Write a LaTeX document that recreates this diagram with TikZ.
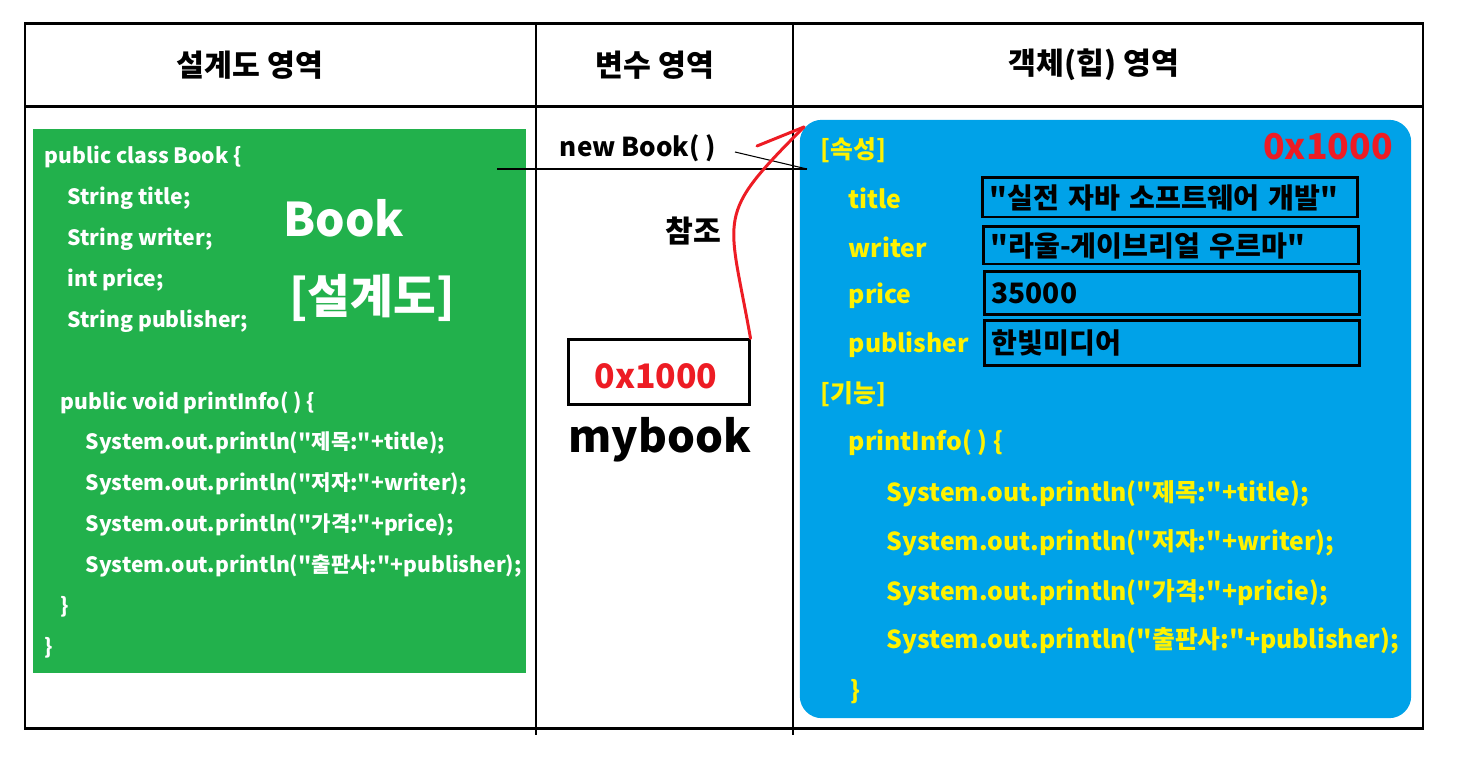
\documentclass[tikz,border=0pt]{standalone}
\usepackage{fontspec}
\setmainfont{Noto Sans CJK KR}[Ligatures=TeXOff]
\usetikzlibrary{arrows.meta,positioning}
\definecolor{planGreen}{HTML}{22B14C}
\definecolor{heapBlue}{HTML}{00A2E8}
\definecolor{codeYellow}{HTML}{FFF200}
\definecolor{addrRed}{HTML}{ED1C24}

\begin{document}
\begin{tikzpicture}[x=0.01cm, y=-0.01cm,
  frame/.style={line width=0.85pt},
  head/.style={font=\bfseries\fontsize{8.6}{10}\selectfont},
  code/.style={anchor=west, inner sep=0pt, text=white, font=\bfseries\fontsize{6.0}{7}\selectfont},
  big/.style={inner sep=0pt, text=white, font=\bfseries\fontsize{13.2}{15}\selectfont},
  heap/.style={anchor=west, inner sep=0pt, text=codeYellow, font=\bfseries\fontsize{7.05}{8}\selectfont},
  valbox/.style={draw, line width=0.85pt, anchor=west, inner ysep=0pt, text width=3.61cm, inner xsep=0.07cm, align=left, font=\bfseries\fontsize{8.0}{9}\selectfont},
  addr/.style={text=addrRed, font=\bfseries\fontsize{9.6}{11}\selectfont},
  refline/.style={addrRed, line width=0.85pt, line cap=round}]
\useasboundingbox (0,0) rectangle (1459,761);

% frame and columns
\draw[frame] (25,24) rectangle (1423,729);
\draw[frame] (25,107) -- (1423,107);
\draw[frame] (536,24) -- (536,735);
\draw[frame] (793,24) -- (793,735);
\node[head] (h1) at (250,65) {설계도 영역};
\node[head] (h2) at (655,65) {변수 영역};
\node[head] (h3) at (1094,65) {객체(힙) 영역};

% class (blueprint)
\node[fill=planGreen, minimum width=4.93cm, minimum height=5.44cm, inner sep=0pt] (plan) at (279.5,401) {};
\node[code] (c1) at (44,157) {public class Book \{};
\node[code] (c2) at (67,198) {String title;};
\node[code] (c3) at (67,239) {String writer;};
\node[code] (c4) at (67,280) {int price;};
\node[code] (c5) at (67,321) {String publisher;};
\node[code] (c6) at (60,403) {public void printInfo( ) \{};
\node[code] (c7) at (85,443) {System.out.println("제목:"+title);};
\node[code] (c8) at (85,484) {System.out.println("저자:"+writer);};
\node[code] (c9) at (85,525) {System.out.println("가격:"+price);};
\node[code] (c10) at (85,566) {System.out.println("출판사:"+publisher);};
\node[code] (c11) at (60,607) {\}};
\node[code] (c12) at (44,648) {\}};
\node[big] (bk) at (344,218) {Book};
\node[big] (bkk) at (372,298) {[설계도]};

% variable
\node[head, font=\bfseries\fontsize{7.4}{9}\selectfont] (new) at (638,148) {new Book( )};
\node[head] (ref) at (693,231) {참조};
\node[draw, line width=0.85pt, minimum width=1.8cm, minimum height=0.64cm] (var) at (659,372) {};
\node[addr] (vaddr) at (656,376) {0x1000};
\node[font=\bfseries\fontsize{12.5}{14}\selectfont] (mybook) at (660,440) {mybook};

% heap object
\node[fill=heapBlue, rounded corners=0.22cm, minimum width=6.11cm, minimum height=5.98cm, inner sep=0pt] (heapobj) at (1105.5,419) {};
\node[addr, font=\bfseries\fontsize{10.1}{12}\selectfont] (haddr) at (1328,147) {0x1000};
\node[heap] (a0) at (820,150) {[속성]};
\node[heap] (a1) at (848,198) {title};
\node[heap] (a2) at (848,247) {writer};
\node[heap] (a3) at (848,296) {price};
\node[heap] (a4) at (848,345) {publisher};
\node[valbox, minimum height=0.39cm] (v1) at (981,197.5) {"실전 자바 소프트웨어 개발"};
\node[valbox, minimum height=0.37cm] (v2) at (982,245.5) {"라울-게이브리얼 우르마"};
\node[valbox, minimum height=0.42cm] (v3) at (983,293) {35000};
\node[valbox, minimum height=0.44cm] (v4) at (983,343) {한빛미디어};
\node[heap] (m0) at (820,394) {[기능]};
\node[heap] (m1) at (848,443) {printInfo( ) \{};
\node[heap] (m2) at (886,494) {System.out.println("제목:"+title);};
\node[heap] (m3) at (886,543) {System.out.println("저자:"+writer);};
\node[heap] (m4) at (886,593) {System.out.println("가격:"+pricie);};
\node[heap] (m5) at (886,641) {System.out.println("출판사:"+publisher);};
\node[heap] (m6) at (850,692) {\}};

% pointers
\coordinate (cls) at (497,169);
\coordinate (ptr) at (807,169);
\coordinate (bar) at (735,152);
\coordinate (tip) at (804,127);
\coordinate (barb) at (757,146);
\draw[line width=0.3pt] (cls) -- (ptr);
\draw[line width=0.3pt] (bar) -- (ptr);
\draw[refline] (var.north east) to[out=100, in=225, looseness=1.5] (tip);
\draw[refline] (barb) -- (tip);
\end{tikzpicture}
\end{document}
